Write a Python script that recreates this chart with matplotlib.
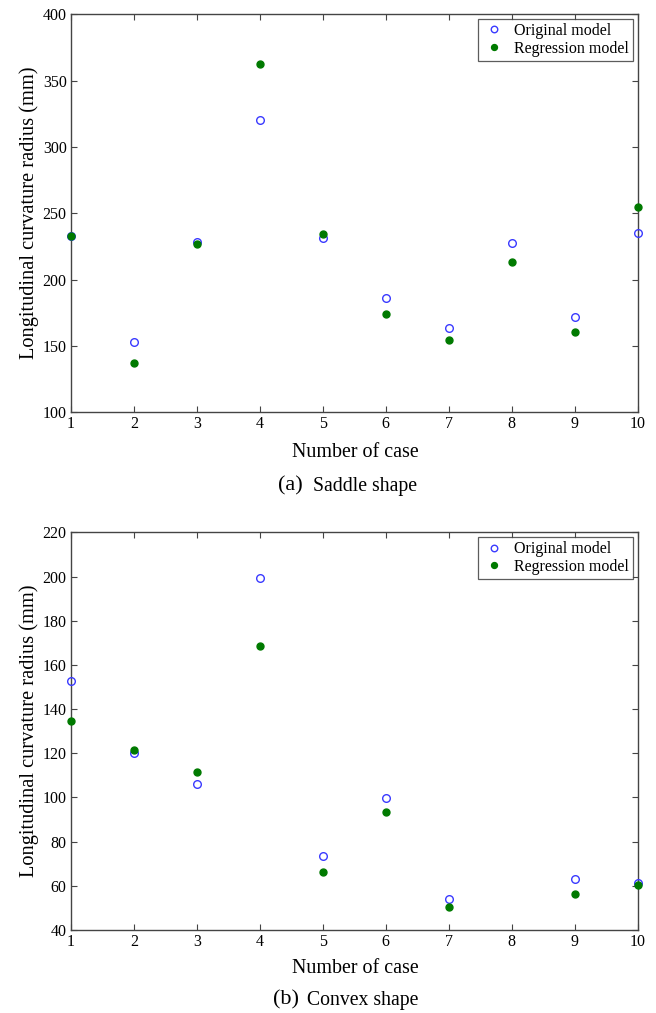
import numpy as np
import matplotlib
matplotlib.use("Agg")
import matplotlib.pyplot as plt

plt.rcParams['font.family'] = ['Liberation Serif', 'DejaVu Serif']

cases = np.arange(1, 11)

# (a) saddle shape
saddle_orig = [232.9, 153.0, 228.4, 320.4, 231.4, 186.0, 163.8, 227.4, 171.6, 235.0]
saddle_reg = [232.7, 137.2, 227.1, 362.1, 234.2, 174.4, 154.8, 213.6, 160.6, 254.8]

# (b) convex shape, case 8 has no data
convex_orig = [152.7, 120.3, 106.1, 199.2, 73.4, 99.6, 54.0, np.nan, 63.0, 61.1]
convex_reg = [134.8, 121.5, 111.5, 168.7, 66.3, 93.4, 50.4, np.nan, 56.3, 60.4]

xticks = list(range(1, 11))
saddle_yticks = [100, 150, 200, 250, 300, 350, 400]
convex_yticks = [40, 60, 80, 100, 120, 140, 160, 180, 200, 220]

fig = plt.figure(figsize=(6.56, 10.13), dpi=100)
ax1 = fig.add_axes([0.108, 0.593, 0.864, 0.393])
ax2 = fig.add_axes([0.108, 0.082, 0.864, 0.3925])

blue = '#3a3aff'
green = '#007a00'
edge = '#444444'


def style(ax, orig, reg, yticks, tag, caption, tag_x, cap_x, xlabel_y, cap_y):
    ax.plot(cases, orig, 'o', mfc='none', mec=blue, mew=1.0, ms=5.5,
            label='Original model', clip_on=False, zorder=3)
    ax.plot(cases, reg, 'o', mfc=green, mec=green, ms=5.0,
            label='Regression model', clip_on=False, zorder=3)
    ax.set_xlim(1, 10)
    ax.set_ylim(yticks[0], yticks[-1])
    ax.set_xticks(xticks)
    ax.set_yticks(yticks)
    ax.tick_params(direction='in', top=True, right=True, length=4,
                   width=0.8, color=edge, labelsize=11.5, pad=3)
    for s in ax.spines.values():
        s.set_color(edge)
        s.set_linewidth(1.0)
    ax.set_ylabel('Longitudinal curvature radius (mm)', fontsize=14.7, labelpad=3)
    fig.text(0.541, xlabel_y, 'Number of case', fontsize=14.4,
             ha='center', va='center')
    fig.text(tag_x, cap_y, tag, fontsize=16, ha='right', va='center')
    fig.text(cap_x, cap_y, caption, fontsize=14.2, ha='left', va='center')
    leg = ax.legend(loc='upper right', fontsize=11.5, frameon=True,
                    fancybox=False, edgecolor='#333333', handletextpad=0.5,
                    borderpad=0.25, labelspacing=0.1, handlelength=1.5,
                    borderaxespad=0.3, markerscale=0.85)
    leg.get_frame().set_linewidth(0.9)


style(ax1, saddle_orig, saddle_reg, saddle_yticks, '(a)', 'Saddle shape',
      303 / 656, 313 / 656, 1 - 452 / 1013, 1 - 486 / 1013)
style(ax2, convex_orig, convex_reg, convex_yticks, '(b)', 'Convex shape',
      299 / 656, 307 / 656, 1 - 968 / 1013, 1 - 1000 / 1013)

fig.savefig('out.png', dpi=100)
